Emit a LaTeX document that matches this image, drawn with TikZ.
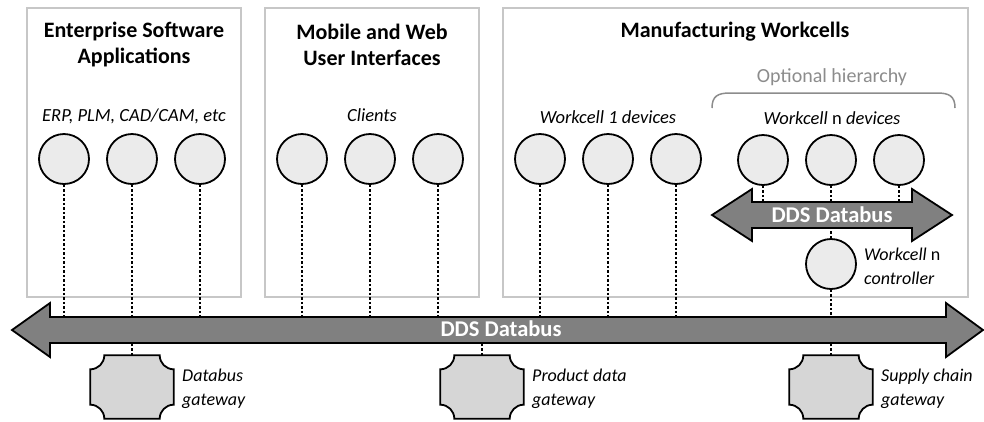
\documentclass[tikz,border=0pt]{standalone}
\usepackage{fontspec}
\setmainfont{Carlito}
\begin{document}
\begin{tikzpicture}[x=1pt,y=-1pt,
  panel/.style={draw=black!22, line width=1.3pt},
  title/.style={font=\fontsize{22}{26}\selectfont\bfseries, align=center},
  sub/.style={font=\fontsize{18.5}{22}\selectfont\itshape},
  lbl/.style={font=\fontsize{18}{24}\selectfont\itshape, align=left, anchor=west, inner sep=0},
  dev/.style={circle, draw, line width=1.8pt, fill=black!8, minimum size=50pt, inner sep=0},
  gw/.style={minimum width=83pt, minimum height=63pt, inner sep=0},
  gwline/.style={draw, line width=1.8pt, fill=black!16},
  link/.style={line width=1.2pt, dash pattern=on 2.5pt off 2pt},
  bus/.style={draw, line width=1.8pt, fill=black!50, line join=miter},
  bustext/.style={font=\fontsize{22.5}{24}\selectfont\bfseries, text=white},
]
\useasboundingbox (0,0) rectangle (984,421);
% panels
\draw[panel] (27,8) rectangle (241,297);
\draw[panel] (265,8) rectangle (479,297);
\draw[panel] (503,8) rectangle (968,297);
% titles
\node[title] (t1) at (134,45) {Enterprise Software\\Applications};
\node[title] (t2) at (372,45) {Mobile and Web\\User Interfaces};
\node[title] (t3) at (735,32) {Manufacturing Workcells};
\node[sub] (s1) at (134,116) {ERP, PLM, CAD/CAM, etc};
\node[sub] (s2) at (372,115) {Clients};
\node[sub] (s3) at (608,117) {Workcell 1 devices};
\node[sub] (s4) at (832,118) {Workcell\/ \upshape n \itshape devices};
\node[font=\fontsize{20}{22}\selectfont, text=black!45] (oh) at (832,77) {Optional hierarchy};
\draw[black!45, line width=1.5pt] (712,108) .. controls (712,96) and (718,93) .. (730,93) -- (937,93) .. controls (949,93) and (955,96) .. (955,108);
% devices
\foreach \n/\x in {a1/64,a2/132,a3/200,b1/302,b2/370,b3/438,c1/540,c2/608,c3/676}{
  \node[dev] (\n) at (\x,159) {};
}
\foreach \n/\x in {d1/763,d2/831,d3/899}{
  \node[dev] (\n) at (\x,160) {};
}
\node[dev] (ctl) at (831,264) {};
\node[lbl] (ctlL) at (864,266) {Workcell\/ \upshape n\\controller};
% gateways
\node[gw] (g1) at (132,387) {};
\node[gw] (g2) at (482,387) {};
\node[gw] (g3) at (831,387) {};
\node[lbl] (g1L) at (182,389) {Databus\\gateway};
\node[lbl] (g2L) at (532,389) {Product data\\gateway};
\node[lbl] (g3L) at (881,389) {Supply chain\\gateway};
% bus reference coordinates
\coordinate (busT) at (0,317);
\coordinate (busB) at (0,343);
\coordinate (sbusT) at (0,202);
\coordinate (sbusB) at (0,228);
% links
\foreach \n in {a1,a2,a3,b1,b2,b3,c1,c2,c3}{
  \draw[link] (\n.south) -- (\n.south |- busT);
}
\foreach \n in {d1,d2,d3}{
  \draw[link] (\n.south) -- (\n.south |- sbusT);
}
\draw[link] (ctl.north) -- (ctl.north |- sbusB);
\draw[link] (ctl.south) -- (ctl.south |- busT);
\foreach \n in {g1,g2,g3}{
  \draw[link] (\n.north) -- (\n.north |- busB);
}
% big databus
\draw[bus] (12,330) -- (50,303) -- (50,317) -- (946,317) -- (946,303) -- (983,330)
  -- (946,357) -- (946,343) -- (50,343) -- (50,357) -- cycle;
\node[bustext] (bigbus) at (501,329) {DDS Databus};
% small databus
\draw[bus] (712,215) -- (752,189) -- (752,202) -- (912,202) -- (912,189) -- (952,215)
  -- (912,241) -- (912,228) -- (752,228) -- (752,241) -- cycle;
\node[bustext] (smallbus) at (832,215) {DDS Databus};
% gateway shapes
\foreach \g in {g1,g2,g3}{
  \draw[gwline] ([xshift=14pt]\g.north west) -- ([xshift=-14pt]\g.north east)
    arc[start angle=180,end angle=270,radius=14pt] -- ([yshift=14pt]\g.south east)
    arc[start angle=90,end angle=180,radius=14pt] -- ([xshift=14pt]\g.south west)
    arc[start angle=0,end angle=90,radius=14pt] -- ([yshift=-14pt]\g.north west)
    arc[start angle=270,end angle=360,radius=14pt] -- cycle;
}
\end{tikzpicture}
\end{document}
